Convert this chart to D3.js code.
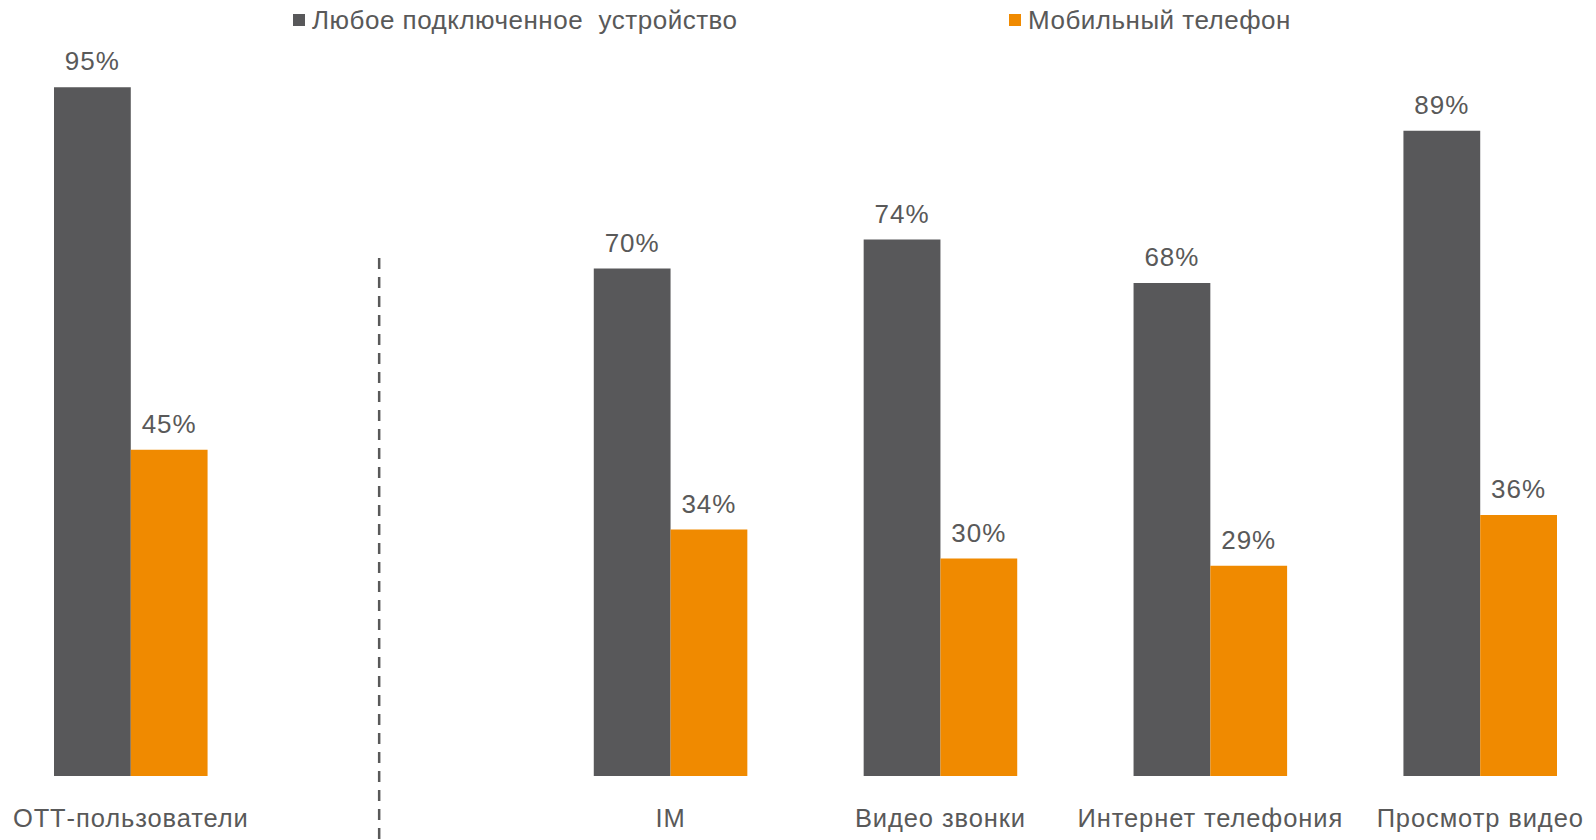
<!DOCTYPE html>
<html>
<head>
<meta charset="utf-8">
<script src="https://cdn.jsdelivr.net/npm/d3@7"></script>
<style>
  body { margin: 0; background: #fff; }
  text { font-family: "Liberation Sans", Arial, sans-serif; fill: #595959; }
</style>
</head>
<body>
<div id="container"></div>
<script>
/**
 * DATA
 * */
const categories = ["ОТТ-пользователи", "", "IM", "Видео звонки", "Интернет телефония", "Просмотр видео"]
const seriesNames = ["Любое подключенное  устройство", "Мобильный телефон"]
const anyDevice = [95, null, 70, 74, 68, 89]
const mobilePhone = [45, null, 34, 30, 29, 36]

/**
 * CONSTANTS AND GLOBALS
 * */
const colors = ["#58585A", "#F08A00"]
const width = 1596,
  height = 840,
  margin = { top: 51, bottom: 64, left: 54, right: 39 };

let svg;

function init() {
  svg = d3.select("#container")
    .append("svg")
    .attr("width", width)
    .attr("height", height)

  const x = d3.scaleBand()
    .domain(categories)
    .range([margin.left, width - margin.right])
    .paddingInner(0.431)
    .paddingOuter(0)

  const xSub = d3.scaleBand()
    .domain([0, 1])
    .range([0, x.bandwidth()])

  const y = d3.scaleLinear()
    .domain([0, 100])
    .range([height - margin.bottom, margin.top])

  const rows = categories.map((c, i) => ({ cat: c, vals: [anyDevice[i], mobilePhone[i]] }))
    .filter(d => d.cat !== "")

  const groups = svg.selectAll("g.group")
    .data(rows)
    .join("g")
    .attr("class", "group")
    .attr("transform", d => `translate(${x(d.cat)},0)`)

  // bars
  groups.selectAll("rect")
    .data(d => d.vals)
    .join("rect")
    .attr("x", (d, i) => xSub(i))
    .attr("width", xSub.bandwidth())
    .attr("y", d => y(d))
    .attr("height", d => y(0) - y(d))
    .attr("fill", (d, i) => colors[i])

  // value labels
  groups.selectAll("text.value")
    .data(d => d.vals)
    .join("text")
    .attr("class", "value")
    .attr("x", (d, i) => xSub(i) + xSub.bandwidth() / 2)
    .attr("y", d => y(d) - 17)
    .attr("text-anchor", "middle")
    .style("font-size", "26px")
    .style("letter-spacing", "1px")
    .text(d => d + "%")

  // category labels
  groups.append("text")
    .attr("x", x.bandwidth() / 2)
    .attr("y", y(0) + 51)
    .attr("text-anchor", "middle")
    .style("font-size", "25.5px")
    .style("letter-spacing", "0.9px")
    .text(d => d.cat)

  // dashed separator in the empty slot
  const sepX = x("") + x.bandwidth() / 2 - 21.5
  svg.append("line")
    .attr("x1", sepX)
    .attr("x2", sepX)
    .attr("y1", 258)
    .attr("y2", height)
    .attr("stroke", "#595959")
    .attr("stroke-width", 2.5)
    .attr("stroke-dasharray", "11,8")

  // legend
  const legendX = [293, 1009]
  const legend = svg.selectAll("g.legend")
    .data(seriesNames)
    .join("g")
    .attr("class", "legend")
    .attr("transform", (d, i) => `translate(${legendX[i]},0)`)

  legend.append("rect")
    .attr("x", 0)
    .attr("y", 14)
    .attr("width", 12)
    .attr("height", 12)
    .attr("fill", (d, i) => colors[i])

  legend.append("text")
    .attr("x", 19)
    .attr("y", 29)
    .style("font-size", "26px")
    .style("letter-spacing", "0.5px")
    .style("white-space", "pre")
    .text(d => d)
}

init()
</script>
</body>
</html>
